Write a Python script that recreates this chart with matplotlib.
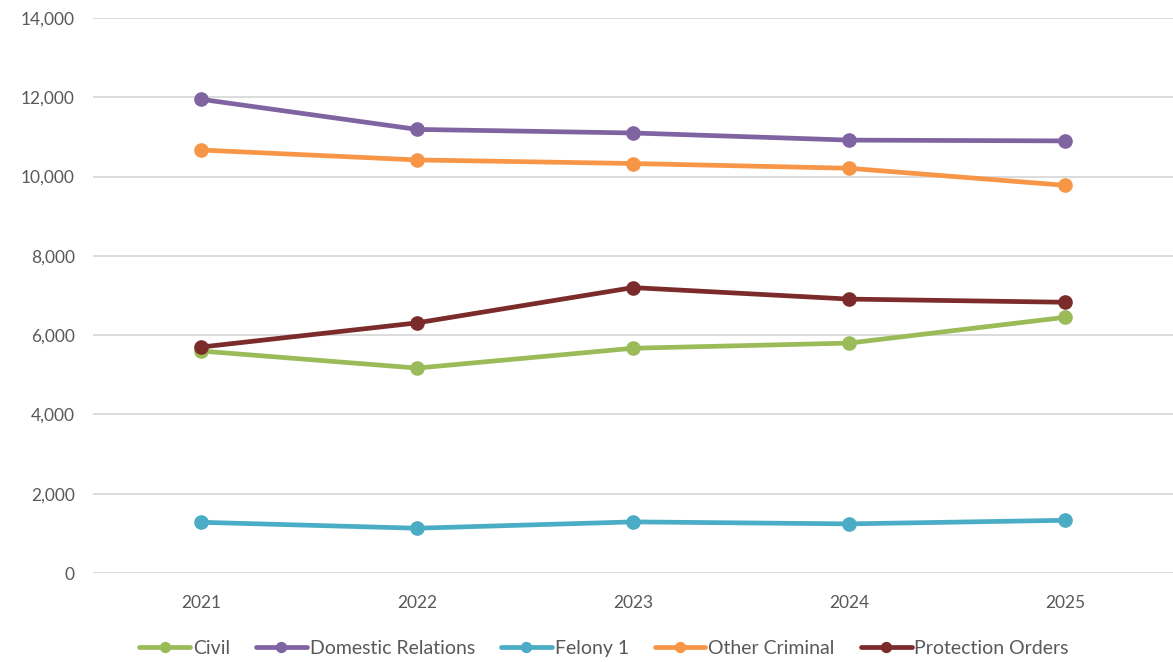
import matplotlib
matplotlib.use("Agg")
import matplotlib.pyplot as plt
from matplotlib.ticker import FuncFormatter

years = ["2021", "2022", "2023", "2024", "2025"]
civil = [5600, 5170, 5670, 5800, 6450]
domestic = [11950, 11190, 11100, 10920, 10900]
felony = [1280, 1130, 1290, 1240, 1330]
other_criminal = [10670, 10420, 10330, 10210, 9780]
protection = [5700, 6310, 7200, 6910, 6830]

series = [
    ("Civil", civil, "#9BBB59"),
    ("Domestic Relations", domestic, "#8064A2"),
    ("Felony 1", felony, "#4BACC6"),
    ("Other Criminal", other_criminal, "#F79646"),
    ("Protection Orders", protection, "#7B2C2A"),
]

plt.rcParams['font.family'] = ['Lato', 'DejaVu Sans']

fig = plt.figure(figsize=(11.73, 6.62), dpi=100)
ax = fig.add_axes([0.0793, 0.1344, 0.9207, 0.8384])

x = list(range(len(years)))
for name, vals, col in series:
    ax.plot(x, vals, color=col, lw=3.4, marker='o', markersize=9.5,
            label=name, solid_capstyle='round', solid_joinstyle='round', zorder=3)

ax.set_xlim(-0.5, 4.5)
ax.set_ylim(0, 14000)
ax.set_yticks(range(0, 14001, 2000))
ax.yaxis.set_major_formatter(FuncFormatter(lambda v, p: f"{int(v):,}"))
ax.set_xticks(x)
ax.set_xticklabels(years)
ax.grid(axis='y', color='#D9D9D9', lw=1.3, zorder=0)
ax.set_axisbelow(True)
for s in ax.spines.values():
    s.set_visible(False)
ax.tick_params(axis='both', length=0, labelsize=12.5, colors='#595959')
ax.tick_params(axis='y', pad=13)
ax.tick_params(axis='x', pad=16)

fig.legend(loc='center', bbox_to_anchor=(0.515, 0.021), ncol=5, frameon=False,
           fontsize=14, handlelength=2.6, columnspacing=1.35, handletextpad=0.15,
           markerscale=0.75, labelcolor='#595959')

fig.savefig("out.png", dpi=100)
